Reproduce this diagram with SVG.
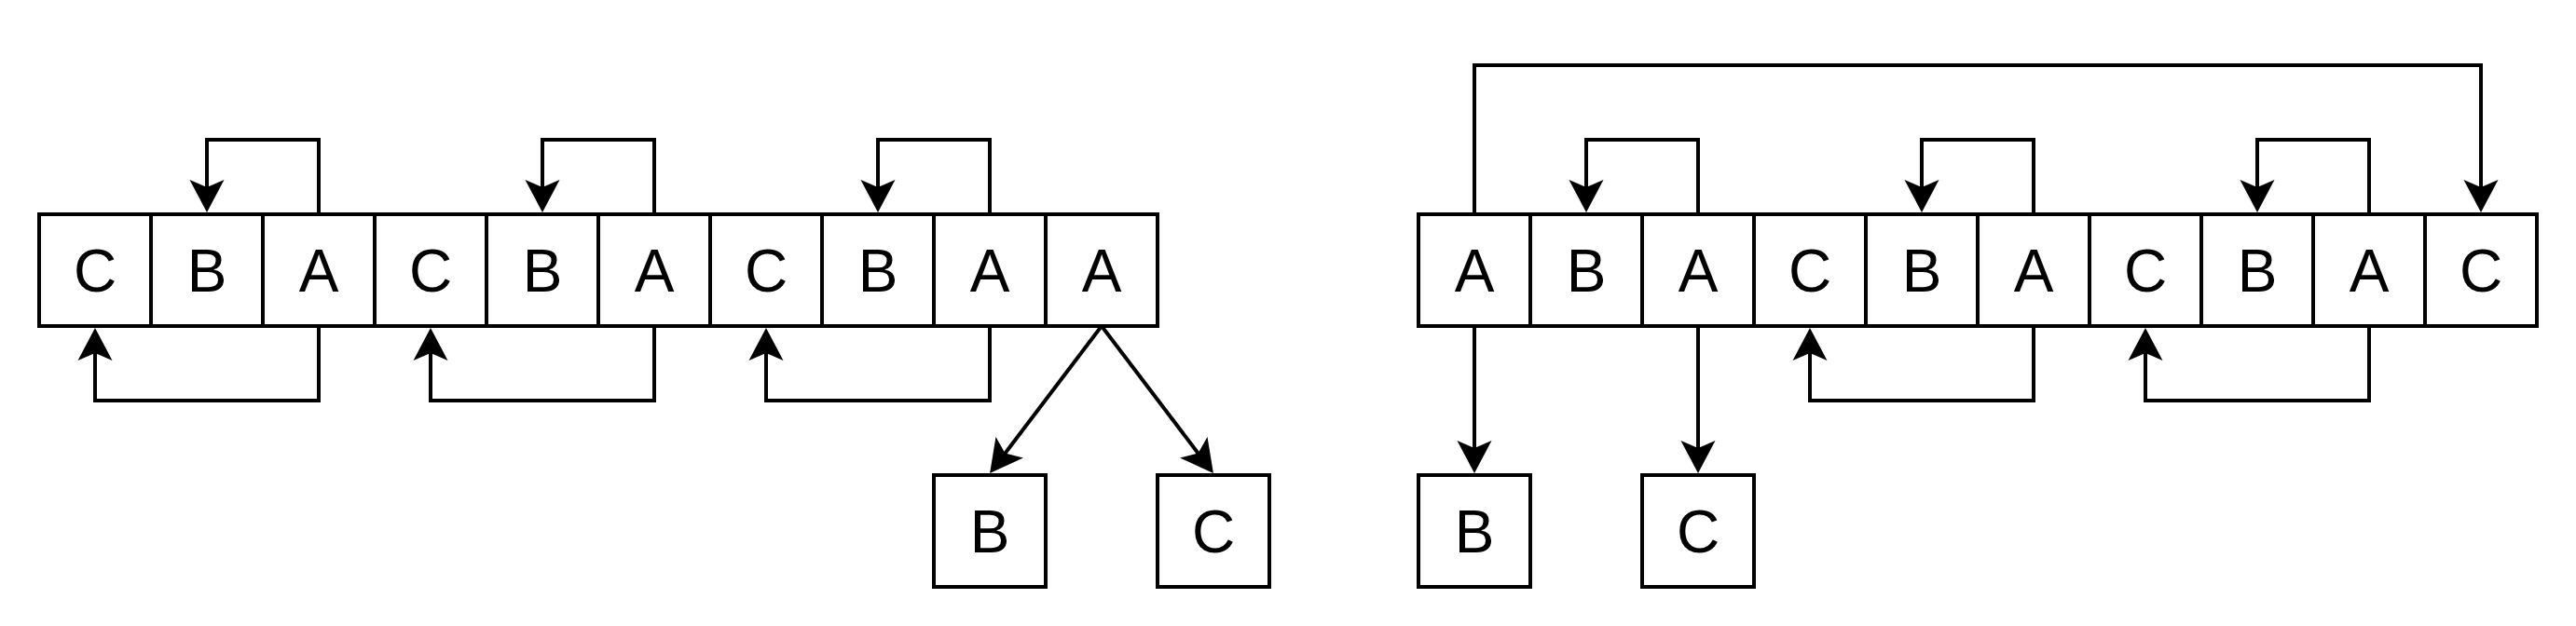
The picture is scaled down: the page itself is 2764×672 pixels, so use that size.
<svg xmlns="http://www.w3.org/2000/svg" width="2764" height="672" viewBox="0 0 2764 672">
<style>
.box{fill:#fff;stroke:#000;stroke-width:4}
.lbl{font-family:"Liberation Sans",Arial,Helvetica,sans-serif;font-size:64px;fill:#000;text-anchor:middle}
.edge{fill:none;stroke:#000;stroke-width:4;marker-end:url(#arr)}
</style>
<defs>
<marker id="arr" markerUnits="userSpaceOnUse" markerWidth="36" markerHeight="38" viewBox="0 0 36 38" refX="10" refY="19" orient="auto">
<path d="M35,19 L0,0.5 L8,19 L0,37.5 Z" fill="#000"/>
</marker>
</defs>
<rect width="2764" height="672" fill="#fff"/>
<g id="left-row">
<g id="L0"><rect class="box" x="42" y="230" width="120" height="120"/><text class="lbl" x="102" y="313">C</text></g>
<g id="L1"><rect class="box" x="162" y="230" width="120" height="120"/><text class="lbl" x="222" y="313">B</text></g>
<g id="L2"><rect class="box" x="282" y="230" width="120" height="120"/><text class="lbl" x="342" y="313">A</text></g>
<g id="L3"><rect class="box" x="402" y="230" width="120" height="120"/><text class="lbl" x="462" y="313">C</text></g>
<g id="L4"><rect class="box" x="522" y="230" width="120" height="120"/><text class="lbl" x="582" y="313">B</text></g>
<g id="L5"><rect class="box" x="642" y="230" width="120" height="120"/><text class="lbl" x="702" y="313">A</text></g>
<g id="L6"><rect class="box" x="762" y="230" width="120" height="120"/><text class="lbl" x="822" y="313">C</text></g>
<g id="L7"><rect class="box" x="882" y="230" width="120" height="120"/><text class="lbl" x="942" y="313">B</text></g>
<g id="L8"><rect class="box" x="1002" y="230" width="120" height="120"/><text class="lbl" x="1062" y="313">A</text></g>
<g id="L9"><rect class="box" x="1122" y="230" width="120" height="120"/><text class="lbl" x="1182" y="313">A</text></g>
</g>
<g id="LB"><rect class="box" x="1002" y="510" width="120" height="120"/><text class="lbl" x="1062" y="593">B</text></g>
<g id="LC"><rect class="box" x="1242" y="510" width="120" height="120"/><text class="lbl" x="1302" y="593">C</text></g>
<g id="right-row">
<g id="R0"><rect class="box" x="1522" y="230" width="120" height="120"/><text class="lbl" x="1582" y="313">A</text></g>
<g id="R1"><rect class="box" x="1642" y="230" width="120" height="120"/><text class="lbl" x="1702" y="313">B</text></g>
<g id="R2"><rect class="box" x="1762" y="230" width="120" height="120"/><text class="lbl" x="1822" y="313">A</text></g>
<g id="R3"><rect class="box" x="1882" y="230" width="120" height="120"/><text class="lbl" x="1942" y="313">C</text></g>
<g id="R4"><rect class="box" x="2002" y="230" width="120" height="120"/><text class="lbl" x="2062" y="313">B</text></g>
<g id="R5"><rect class="box" x="2122" y="230" width="120" height="120"/><text class="lbl" x="2182" y="313">A</text></g>
<g id="R6"><rect class="box" x="2242" y="230" width="120" height="120"/><text class="lbl" x="2302" y="313">C</text></g>
<g id="R7"><rect class="box" x="2362" y="230" width="120" height="120"/><text class="lbl" x="2422" y="313">B</text></g>
<g id="R8"><rect class="box" x="2482" y="230" width="120" height="120"/><text class="lbl" x="2542" y="313">A</text></g>
<g id="R9"><rect class="box" x="2602" y="230" width="120" height="120"/><text class="lbl" x="2662" y="313">C</text></g>
</g>
<g id="RB"><rect class="box" x="1522" y="510" width="120" height="120"/><text class="lbl" x="1582" y="593">B</text></g>
<g id="RC"><rect class="box" x="1762" y="510" width="120" height="120"/><text class="lbl" x="1822" y="593">C</text></g>
<g id="connectors">
<path class="edge" d="M342,230 V150 H222 V203"/>
<path class="edge" d="M702,230 V150 H582 V203"/>
<path class="edge" d="M1062,230 V150 H942 V203"/>
<path class="edge" d="M342,350 V430 H102 V377"/>
<path class="edge" d="M702,350 V430 H462 V377"/>
<path class="edge" d="M1062,350 V430 H822 V377"/>
<path class="edge" d="M1182,350 L1077.2,488.2"/>
<path class="edge" d="M1182,350 L1286.8,488.2"/>
<path class="edge" d="M1582,230 V70 H2662 V203"/>
<path class="edge" d="M1822,230 V150 H1702 V203"/>
<path class="edge" d="M2182,230 V150 H2062 V203"/>
<path class="edge" d="M2542,230 V150 H2422 V203"/>
<path class="edge" d="M2182,350 V430 H1942 V377"/>
<path class="edge" d="M2542,350 V430 H2302 V377"/>
<path class="edge" d="M1582,350 V483"/>
<path class="edge" d="M1822,350 V483"/>
</g>
</svg>
